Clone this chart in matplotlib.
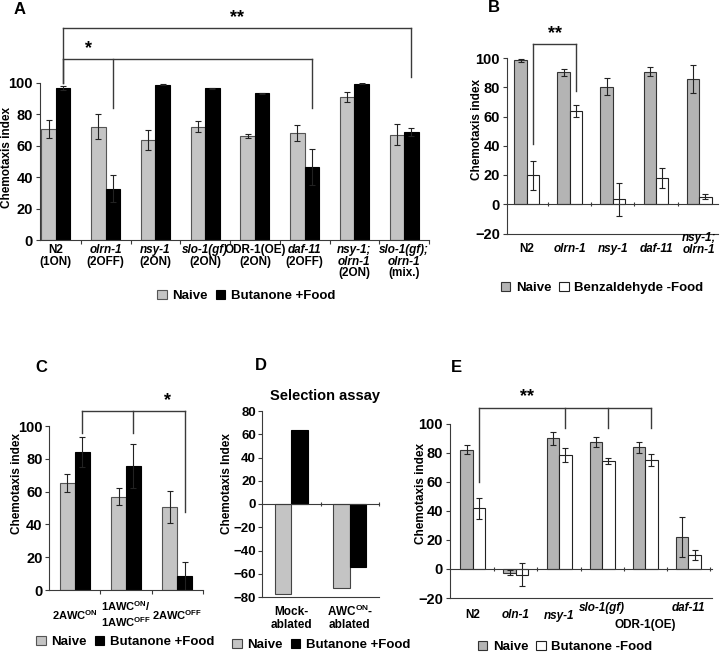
import numpy as np
import matplotlib
matplotlib.use('Agg')
import matplotlib.pyplot as plt

plt.rcParams['font.family'] = ['Liberation Sans', 'DejaVu Sans']
plt.rcParams['font.weight'] = 'bold'
plt.rcParams['mathtext.fontset'] = 'custom'
plt.rcParams['mathtext.rm'] = 'Liberation Sans:bold'
plt.rcParams['mathtext.bf'] = 'Liberation Sans:bold'
plt.rcParams['mathtext.it'] = 'Liberation Sans:bold:italic'

W, H = 720, 652

# ---- Panel A: naive vs butanone + food
a_lines = [['N2', '(1ON)'], ['olrn-1', '(2OFF)'], ['nsy-1', '(2ON)'], ['slo-1(gf)', '(2ON)'],
           ['ODR-1(OE)', '(2ON)'], ['daf-11', '(2OFF)'], ['nsy-1;', 'olrn-1', '(2ON)'],
           ['slo-1(gf);', 'olrn-1', '(mix.)']]
a_ital = [[0, 0], [1, 0], [1, 0], [1, 0], [0, 0], [1, 0], [1, 1, 0], [1, 1, 0]]
a_naive = [70.6, 72.1, 63.8, 72.1, 66.0, 68.2, 91.0, 67.1]
a_naive_err = [5.8, 7.9, 6.2, 3.4, 1.3, 5.3, 3.2, 6.6]
a_food = [96.6, 32.8, 98.9, 96.6, 93.4, 46.7, 99.6, 68.8]
a_food_err = [1.3, 8.5, 0.4, 0.4, 0.3, 11.5, 0.3, 2.3]

# ---- Panel B: naive vs benzaldehyde - food
b_lines = [['N2'], ['olrn-1'], ['nsy-1'], ['daf-11'], ['nsy-1;', 'olrn-1']]
b_ital = [[0], [1], [1], [1], [1, 1]]
b_naive = [98.3, 90.1, 80.3, 90.6, 85.6]
b_naive_err = [1.0, 2.3, 5.8, 3.1, 9.7]
b_benz = [19.9, 63.7, 3.4, 17.8, 5.2]
b_benz_err = [10.0, 4.3, 11.4, 6.8, 1.6]

# ---- Panel C: AWC states
c_lines = [['2AWC$^{\\rm ON}$'], ['1AWC$^{\\rm ON}$/', '1AWC$^{\\rm OFF}$'], ['2AWC$^{\\rm OFF}$']]
c_naive = [65.0, 57.0, 50.4]
c_naive_err = [5.5, 5.2, 9.8]
c_food = [84.0, 75.4, 8.7]
c_food_err = [9.0, 13.5, 8.5]

# ---- Panel D: selection assay
d_lines = [['Mock-', 'ablated'], ['AWC$^{\\rm ON}$-', 'ablated']]
d_naive = [-77, -72]
d_food = [64, -54.5]

# ---- Panel E: naive vs butanone - food
e_labels = ['N2', 'oln-1', 'nsy-1', 'slo-1(gf)', 'ODR-1(OE)', 'daf-11']
e_ital = [0, 1, 1, 1, 0, 1]
e_naive = [82.0, -2.7, 89.7, 87.2, 83.6, 21.9]
e_naive_err = [3.0, 1.7, 4.5, 3.7, 3.7, 14.0]
e_nofood = [41.6, -3.9, 78.3, 74.2, 74.7, 9.6]
e_nofood_err = [7.0, 8.0, 4.7, 2.3, 4.0, 3.7]

LC = '#3a3a3a'
GRAY = '#c4c4c4'
GRAY2 = '#b4b4b4'
ekw = dict(capsize=2.0, elinewidth=0.8, capthick=0.8, ecolor='#222222')

fig = plt.figure(figsize=(W / 100, H / 100), dpi=100)


def rect(l, t, r, b):
    return [l / W, 1 - b / H, (r - l) / W, (b - t) / H]


def grouped(ax, v1, e1, v2, e2, c1, c2, ec1, ec2, w=0.29):
    x = np.arange(len(v1))
    k1 = dict(error_kw=ekw) if e1 is not None else {}
    p1 = ax.bar(x - w / 2, v1, w, yerr=e1, color=c1, edgecolor=ec1, linewidth=0.8, **k1)
    p2 = ax.bar(x + w / 2, v2, w, yerr=e2, color=c2, edgecolor=ec2, linewidth=0.8, **k1)
    return x, p1, p2


def style(ax, ylim, step, n, zero=False):
    ax.set_xlim(-0.5, n - 0.5)
    ax.set_ylim(*ylim)
    ax.set_yticks(np.arange(ylim[0], ylim[1] + 1, step))
    ax.set_xticks(np.arange(n) + 0.5)
    ax.set_xticklabels([])
    for s in ['top', 'right']:
        ax.spines[s].set_visible(False)
    for s in ['left', 'bottom']:
        ax.spines[s].set_color(LC)
        ax.spines[s].set_linewidth(0.8)
    ax.tick_params(axis='y', direction='out', length=3, color=LC, labelsize=10.5, pad=2)
    ax.tick_params(axis='x', direction='inout' if zero else 'out', length=3, color=LC)
    if zero:
        ax.spines['bottom'].set_position(('data', 0))
        ax.axhline(ylim[0], color=LC, lw=0.8, clip_on=False)


def xlabels(ax, xs, lines, ital, first, step, size=8.5):
    for x, ln, it, f in zip(xs, lines, ital, first):
        for k, (s, i) in enumerate(zip(ln, it)):
            ax.annotate(s, xy=(x, 0), xycoords=('data', 'axes fraction'),
                        xytext=(0, -(f + k * step) * 0.72), textcoords='offset points',
                        ha='center', va='center', fontsize=size, fontweight='bold',
                        fontstyle='italic' if i else 'normal', annotation_clip=False)


def bracket(ax, xs, tops, level, star, sx, dy=1.5):
    ax.plot([xs[0], xs[-1]], [level, level], color=LC, lw=1, clip_on=False)
    for x, t in zip(xs, tops):
        ax.plot([x, x], [level, t], color=LC, lw=1, clip_on=False)
    ax.annotate(star, xy=(sx, level), xytext=(0, dy), textcoords='offset points',
                ha='center', va='bottom', fontsize=13, fontweight='bold', annotation_clip=False)


def legend(ax, handles, labels, cx, cy):
    ax.legend(handles, labels, loc='center', bbox_to_anchor=(cx / W, 1 - cy / H),
              bbox_transform=fig.transFigure, ncol=2, frameon=False, fontsize=9.5,
              handlelength=0.75, handleheight=0.75, handletextpad=0.4, columnspacing=0.6)


def ftext(px, py, s, **kw):
    fig.text(px / W, 1 - py / H, s, ha='center', va='center', fontweight='bold', **kw)


# ---------------- A
axA = fig.add_axes(rect(40, 83, 429, 240))
x, p1, p2 = grouped(axA, a_naive, a_naive_err, a_food, a_food_err, GRAY, 'black', '#555555', 'black')
style(axA, (0, 100), 20, len(a_naive))
axA.set_xlim(-0.32, 7.5)
xlabels(axA, x, a_lines, a_ital, [10] * 8, 11.7)
bx = x + 0.145
bracket(axA, [bx[0], bx[7]], [100, 104], 135, '**', (bx[0] + bx[7]) / 2)
bracket(axA, [bx[0], bx[1], bx[5]], [100, 84, 84], 115, '*', (bx[0] + bx[1]) / 2)
legend(axA, [p1, p2], ['Naive', 'Butanone +Food'], 246, 296)
ftext(7, 157, 'Chemotaxis index', rotation=90, fontsize=8.5)
ftext(20, 9, 'A', fontsize=12)

# ---------------- B
axB = fig.add_axes(rect(507, 58, 718, 233.5))
x, p1, p2 = grouped(axB, b_naive, b_naive_err, b_benz, b_benz_err, GRAY2, 'white', '#333333', '#222222')
style(axB, (-20, 100), 20, len(b_naive), zero=True)
axB.set_xlim(-0.46, 4.44)
xlabels(axB, x, b_lines, b_ital, [15.5, 15.5, 15.5, 15.5, 4.5], 12)
bx = x + 0.145
bracket(axB, [bx[0], bx[1]], [41, 77.6], 109.6, '**', (bx[0] + bx[1]) / 2)
legend(axB, [p1, p2], ['Naive', 'Benzaldehyde -Food'], 602, 288)
ftext(477, 129, 'Chemotaxis index', rotation=90, fontsize=8.5)
ftext(494, 8, 'B', fontsize=12)

# ---------------- C
axC = fig.add_axes(rect(49, 426, 203, 590))
x, p1, p2 = grouped(axC, c_naive, c_naive_err, c_food, c_food_err, GRAY, 'black', '#555555', 'black')
style(axC, (0, 100), 20, len(c_naive))
axC.tick_params(axis='y', pad=1.5)
xlabels(axC, x, c_lines, [[0], [0, 0], [0]], [25, 16, 25], 15.7, size=8)
bx = x + 0.145
bracket(axC, [bx[0], bx[1], bx[2]], [95.5, 95.5, 47.8], 109, '*', 1.8)
legend(axC, [p1, p2], ['Naive', 'Butanone +Food'], 125, 642)
ftext(17, 484, 'Chemotaxis index', rotation=90, fontsize=8.5)
ftext(41, 367, 'C', fontsize=12)

# ---------------- D
axD = fig.add_axes(rect(262, 411, 379, 597))
x, p1, p2 = grouped(axD, d_naive, None, d_food, None, GRAY, 'black', '#444444', 'black', w=0.28)
style(axD, (-80, 80), 20, len(d_naive), zero=True)
axD.tick_params(axis='y', labelsize=9.5, pad=1.5)
xlabels(axD, x, d_lines, [[0, 0], [0, 0]], [14.7, 14.7], 13.3, size=8.5)
legend(axD, [p1, p2], ['Naive', 'Butanone +Food'], 321, 645)
ftext(227, 484, 'Chemotaxis Index', rotation=90, fontsize=8.5)
ftext(261, 366, 'D', fontsize=12)
ftext(325, 396, 'Selection assay', fontsize=10.5)

# ---------------- E
axE = fig.add_axes(rect(450, 423.5, 712, 598))
x, p1, p2 = grouped(axE, e_naive, e_naive_err, e_nofood, e_nofood_err, GRAY2, 'white', '#333333', '#222222')
style(axE, (-20, 100), 20, len(e_naive), zero=True)
axE.set_xlim(-0.53, 5.55)
xlabels(axE, x, [[s] for s in e_labels], [[i] for i in e_ital], [17, 17, 18, 10, 27, 10], 12)
bx = x + 0.145
bracket(axE, [bx[0], bx[2], bx[3], bx[4]], [60, 97, 97, 97], 111, '**', 1.25)
legend(axE, [p1, p2], ['Naive', 'Butanone -Food'], 565, 647)
ftext(421, 493, 'Chemotaxis index', rotation=90, fontsize=8.5)
ftext(456, 367, 'E', fontsize=12)

fig.savefig('out.png', dpi=100)
